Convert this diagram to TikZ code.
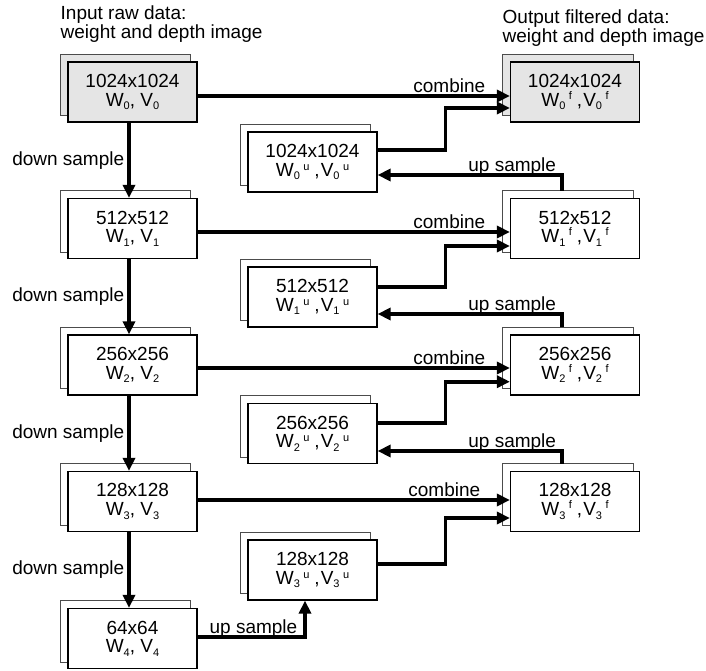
\documentclass[tikz,border=0pt]{standalone}
\usepackage{fontspec}
\setmainfont{Liberation Sans}
\usetikzlibrary{arrows.meta,backgrounds}
\definecolor{boxgray}{gray}{0.9}
\newcommand\fs{\fontsize{19}{18.7}\selectfont}
\newcommand\smallfs{\fontsize{11}{11}\selectfont}
\newcommand\sbs[1]{\raisebox{-3.5pt}{\smallfs #1}}
\newcommand\sx[4]{#1\sbs{#2}\hspace{3.5pt}\raisebox{#4}{\smallfs #3}}
\newcommand\wv[1]{W\sbs{#1}, V\sbs{#1}}
\newcommand\wvu[1]{\sx{W}{#1}{u}{6pt}\hspace{5pt},\hspace{1pt}\sx{V}{#1}{u}{6pt}}
\newcommand\wvf[1]{\sx{W}{#1}{f}{7pt}\hspace{5pt},\hspace{1pt}\sx{V}{#1}{f}{7pt}}
\tikzset{
  box/.style={draw, line width=1.2pt, minimum width=129pt, minimum height=60pt,
    fill=white, align=center, inner sep=0pt, font=\fs},
  gbox/.style={box, fill=boxgray},
  backline/.style={draw=black!70, line width=0.9pt},
  arr/.style={line width=3.6pt, -{Triangle[length=13pt,width=12pt]}},
  lbl/.style={font=\fs, inner sep=0pt},
  toplbl/.style={lbl, anchor=base, yshift=3.5pt},
}
\newcommand\backbox[2]{\draw[backline, fill=#2] ([shift={(-7,-7)}]#1.south west) rectangle ([shift={(-7,-7)}]#1.north east);}
\begin{document}
\begin{tikzpicture}[x=1pt,y=-1pt]
\useasboundingbox (0,0) rectangle (706,671);
% headers
\node[lbl, anchor=north west, align=left] (hin) at (60.5,6) {Input raw data:\\weight and depth image};
\node[lbl, anchor=north west, align=left] (hout) at (502.5,9.5) {Output filtered data:\\weight and depth image};
% left column
\node[gbox] (L0) at (132.5,92) {1024x1024\\\wv{0}};
\node[box] (L1) at (132.5,228.5) {512x512\\\wv{1}};
\node[box] (L2) at (132.5,365) {256x256\\\wv{2}};
\node[box] (L3) at (132.5,501.5) {128x128\\\wv{3}};
\node[box] (L4) at (132.5,638.5) {64x64\\\wv{4}};
% middle column
\node[box] (U0) at (312.5,162) {1024x1024\\\wvu{0}};
\node[box] (U1) at (312.5,297) {512x512\\\wvu{1}};
\node[box] (U2) at (312.5,433.5) {256x256\\\wvu{2}};
\node[box] (U3) at (312.5,570) {128x128\\\wvu{3}};
% right column
\node[gbox] (F0) at (575,92) {1024x1024\\\wvf{0}};
\node[box] (F1) at (575,228.5) {512x512\\\wvf{1}};
\node[box] (F2) at (575,365) {256x256\\\wvf{2}};
\node[box] (F3) at (575,501.5) {128x128\\\wvf{3}};
\begin{scope}[on background layer]
\backbox{L0}{boxgray}\backbox{L1}{white}\backbox{L2}{white}\backbox{L3}{white}\backbox{L4}{white}
\backbox{U0}{white}\backbox{U1}{white}\backbox{U2}{white}\backbox{U3}{white}
\backbox{F0}{boxgray}\backbox{F1}{white}\backbox{F2}{white}\backbox{F3}{white}
\end{scope}
% down sample
\draw[arr] ([xshift=-3.5pt]L0.south) -- node[lbl, left, xshift=-3pt] (d0) {down sample} ([xshift=-3.5pt]L1.north);
\draw[arr] ([xshift=-3.5pt]L1.south) -- node[lbl, left, xshift=-3pt] (d1) {down sample} ([xshift=-3.5pt]L2.north);
\draw[arr] ([xshift=-3.5pt]L2.south) -- node[lbl, left, xshift=-3pt] (d2) {down sample} ([xshift=-3.5pt]L3.north);
\draw[arr] ([xshift=-3.5pt]L3.south) -- node[lbl, left, xshift=-3pt] (d3) {down sample} ([xshift=-3.5pt]L4.north);
% combine
\draw[arr] ([yshift=-4pt]L0.east) -- node[toplbl, pos=0.806] (c0) {combine} ([yshift=-4pt]F0.west);
\draw[arr] ([yshift=-3.5pt]L1.east) -- node[toplbl, pos=0.806] (c1) {combine} ([yshift=-3.5pt]F1.west);
\draw[arr] ([yshift=-3pt]L2.east) -- node[toplbl, pos=0.806] (c2) {combine} ([yshift=-3pt]F2.west);
\draw[arr] ([yshift=1.5pt]L3.east) -- node[toplbl, pos=0.79] (c3) {combine} ([yshift=1.5pt]F3.west);
% u to f
\draw[arr] ([yshift=12pt]U0.east) -- ++(68,0) |- ([yshift=-16pt]F0.west);
\draw[arr] ([yshift=10pt]U1.east) -- ++(68,0) |- ([yshift=-17.5pt]F1.west);
\draw[arr] ([yshift=10.5pt]U2.east) -- ++(68,0) |- ([yshift=-16.7pt]F2.west);
\draw[arr] ([yshift=6pt]U3.east) -- ++(68,0) |- ([yshift=-16.5pt]F3.west);
% up sample
\draw[arr] ([shift={(-13,-7)}]F1.north) |- node[toplbl, pos=0.635] (us0) {up sample} ([yshift=-13pt]U0.east);
\draw[arr] ([shift={(-13,-7)}]F2.north) |- node[toplbl, pos=0.635] (us1) {up sample} ([yshift=-17pt]U1.east);
\draw[arr] ([shift={(-13,-7)}]F3.north) |- node[toplbl, pos=0.635] (us2) {up sample} ([yshift=-17.5pt]U2.east);
\draw[arr] ([yshift=1.5pt]L4.east) -| node[toplbl, pos=0.26] (us3) {up sample} ([xshift=-7.5pt]U3.south);
\end{tikzpicture}
\end{document}
